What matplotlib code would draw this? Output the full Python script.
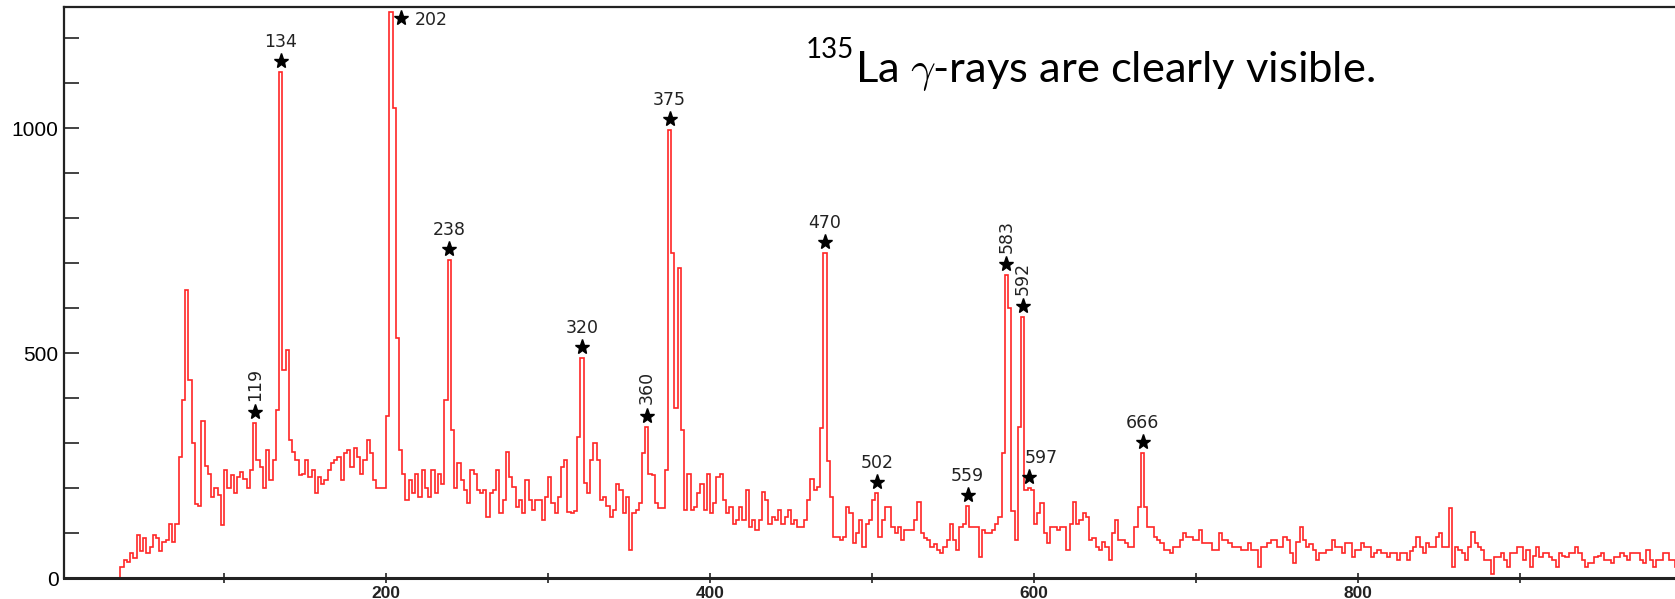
import numpy as np
import matplotlib
matplotlib.use("Agg")
import matplotlib.pyplot as plt
from matplotlib.ticker import MultipleLocator, FixedLocator

# Gamma-ray spectrum, counts per 2 keV bin (bin k covers [2k, 2k+2) keV)
BIN_WIDTH = 2

counts_0_100 = [0, 0, 0, 0, 0, 0, 0, 0, 0, 0, 0, 0, 0, 0, 0, 0, 0, 0, 25, 40, 35, 55, 45, 95, 60,
                90, 55, 70, 95, 90, 60, 80, 85, 120, 80, 120, 270, 395, 640, 440, 300, 165, 160, 350, 250, 232, 180, 200, 185, 118]
counts_100_200 = [240, 200, 230, 190, 225, 235, 220, 200, 240, 344, 262, 247, 200, 285, 217, 262, 373, 1125, 462, 507, 306, 280, 262, 230, 232,
                  262, 225, 240, 188, 225, 210, 218, 240, 255, 262, 270, 218, 277, 285, 247, 288, 270, 232, 262, 307, 277, 218, 200, 200, 200]
counts_200_300 = [360, 1258, 1044, 534, 284, 232, 173, 218, 188, 232, 180, 240, 200, 180, 240, 188, 232, 210, 395, 707, 329, 200, 255, 218, 195,
                  166, 240, 232, 195, 188, 195, 136, 188, 195, 240, 144, 173, 281, 225, 203, 158, 173, 144, 218, 173, 151, 173, 173, 129, 180]
counts_300_400 = [225, 166, 144, 180, 247, 262, 147, 144, 150, 314, 489, 211, 190, 262, 299, 262, 173, 180, 160, 136, 151, 210, 195, 144, 180,
                  62, 144, 151, 166, 277, 336, 232, 228, 166, 155, 155, 240, 996, 722, 377, 690, 329, 151, 232, 151, 158, 188, 210, 151, 232]
counts_400_500 = [144, 166, 225, 232, 173, 144, 158, 121, 129, 158, 129, 195, 114, 129, 107, 129, 192, 173, 121, 135, 129, 151, 121, 136, 151,
                  121, 129, 114, 114, 129, 173, 221, 195, 203, 333, 722, 260, 180, 92, 92, 84, 92, 158, 144, 77, 99, 129, 70, 121, 129]
counts_500_600 = [173, 189, 92, 130, 158, 158, 114, 99, 114, 84, 107, 107, 107, 130, 170, 99, 90, 84, 70, 75, 62, 55, 70, 84, 121,
                  84, 62, 114, 120, 160, 114, 114, 114, 47, 107, 99, 99, 107, 120, 136, 277, 673, 600, 150, 84, 336, 580, 195, 200, 195]
counts_600_700 = [121, 144, 166, 99, 77, 114, 114, 107, 114, 114, 62, 120, 170, 121, 130, 144, 136, 84, 90, 70, 62, 80, 70, 40, 100,
                  129, 84, 84, 77, 70, 70, 114, 158, 277, 158, 114, 114, 92, 85, 77, 62, 62, 55, 70, 70, 84, 99, 92, 92, 84]
counts_700_800 = [84, 107, 77, 77, 77, 62, 62, 99, 84, 84, 77, 70, 70, 70, 62, 62, 77, 62, 62, 25, 70, 70, 77, 84, 84,
                  70, 70, 92, 84, 55, 33, 80, 114, 84, 70, 75, 62, 40, 55, 55, 62, 62, 84, 70, 70, 55, 77, 77, 47, 62]
counts_800_900 = [62, 77, 70, 70, 47, 55, 62, 55, 55, 47, 55, 55, 40, 55, 55, 40, 60, 70, 92, 70, 55, 77, 70, 70, 92,
                  99, 70, 70, 155, 25, 70, 62, 55, 40, 70, 103, 77, 70, 62, 40, 40, 10, 47, 47, 55, 40, 25, 55, 55, 70]
counts_900_1000 = [70, 40, 62, 25, 50, 70, 47, 55, 55, 47, 40, 25, 55, 50, 47, 55, 55, 70, 55, 40, 25, 33, 33, 47, 50,
                   55, 40, 40, 33, 47, 47, 55, 50, 40, 55, 55, 55, 40, 33, 62, 40, 25, 40, 40, 55, 55, 40, 40, 25, 40]

# Identified 135La lines (keV)
peak_energies = [119, 134, 202, 238, 320, 360, 375, 470, 502, 559, 583, 592, 597, 666]
vertical_labels = [119, 360, 583, 592]

y_tick_labels = ["0", "500", "1000"]
x_tick_labels = ["200", "400", "600", "800"]

title_mass = "135"
title_body = "La $\\gamma$-rays are clearly visible."

chunks = [counts_0_100, counts_100_200, counts_200_300, counts_300_400, counts_400_500,
          counts_500_600, counts_600_700, counts_700_800, counts_800_900, counts_900_1000]
for c in chunks:
    assert len(c) == 50, len(c)
counts = np.concatenate([np.asarray(c, float) for c in chunks])
edges = np.arange(len(counts) + 1) * BIN_WIDTH

plt.rcParams["mathtext.fontset"] = "cm"

W, H = 1675, 599
fig = plt.figure(figsize=(W / 100, H / 100), dpi=100)
ax = fig.add_axes([64 / W, 21 / H, (W - 64) / W, (578 - 7) / H])

ax.stairs(counts, edges, color="#ff2626", lw=1.2, baseline=None)

ax.set_xlim(1.2, 995.7)
ax.set_ylim(0, 1269)

# axes frame
ax.spines["right"].set_visible(False)
ax.spines["left"].set_linewidth(1.6)
ax.spines["top"].set_linewidth(1.6)
ax.spines["bottom"].set_linewidth(2.2)
for s in ax.spines.values():
    s.set_color("#222222")

ax.yaxis.set_major_locator(FixedLocator([int(v) for v in y_tick_labels]))
ax.set_yticklabels(y_tick_labels)
ax.yaxis.set_minor_locator(MultipleLocator(100))
ax.tick_params(axis="y", which="both", direction="in", length=11, width=1.2,
               colors="#222222", pad=4)
ax.tick_params(axis="y", which="major", labelsize=15)
for t in ax.get_yticklabels():
    t.set_fontfamily("Liberation Sans")
    t.set_color("black")

ax.xaxis.set_major_locator(FixedLocator([int(v) for v in x_tick_labels]))
ax.set_xticklabels(x_tick_labels)
ax.xaxis.set_minor_locator(MultipleLocator(100))
ax.tick_params(axis="x", which="both", direction="inout", length=7, width=1.2,
               colors="#222222", pad=2)
for t in ax.get_xticklabels():
    t.set_fontfamily("Liberation Sans")
    t.set_fontweight("bold")
    t.set_fontsize(12.5)
    t.set_color("#222222")

# stars and energy labels above the identified peaks
label_style = dict(textcoords="offset points", fontsize=12.5, color="#222222")
for e in peak_energies:
    k = e // BIN_WIDTH
    top = counts[k]
    xc = (edges[k] + edges[k + 1]) / 2
    if top + 40 > ax.get_ylim()[1]:
        # peak reaches the frame: mark it beside the top
        sx, sy = xc + 6, top - 14
        ax.plot(sx, sy, marker="*", ms=11, color="black", zorder=5)
        ax.annotate(str(e), (sx, sy), xytext=(10, -1), ha="left", va="center", **label_style)
        continue
    sy = top + 25
    ax.plot(xc, sy, marker="*", ms=11, color="black", zorder=5)
    if e in vertical_labels:
        ax.annotate(str(e), (xc, sy), xytext=(0, 8), ha="center", va="bottom",
                    rotation=90, **label_style)
    elif e == 597:
        # crowded next to the 592 line: shift the text sideways
        ax.annotate(str(e), (xc, sy), xytext=(9, 7), ha="center", va="bottom", **label_style)
    else:
        ax.annotate(str(e), (xc, sy), xytext=(0, 7), ha="center", va="bottom", **label_style)

# slide caption with the mass number as a small raised prefix
renderer = fig.canvas.get_renderer()
sup = fig.text(806 / W, 1 - 58 / H, title_mass, fontsize=20, family="Lato",
               ha="left", va="baseline", color="black")
sup_box = sup.get_window_extent(renderer)
fig.text(sup_box.x1 / W + 1 / W, 1 - 82 / H, title_body, fontsize=31.3, family="Lato",
         ha="left", va="baseline", color="black")

fig.savefig("out.png", dpi=100)
